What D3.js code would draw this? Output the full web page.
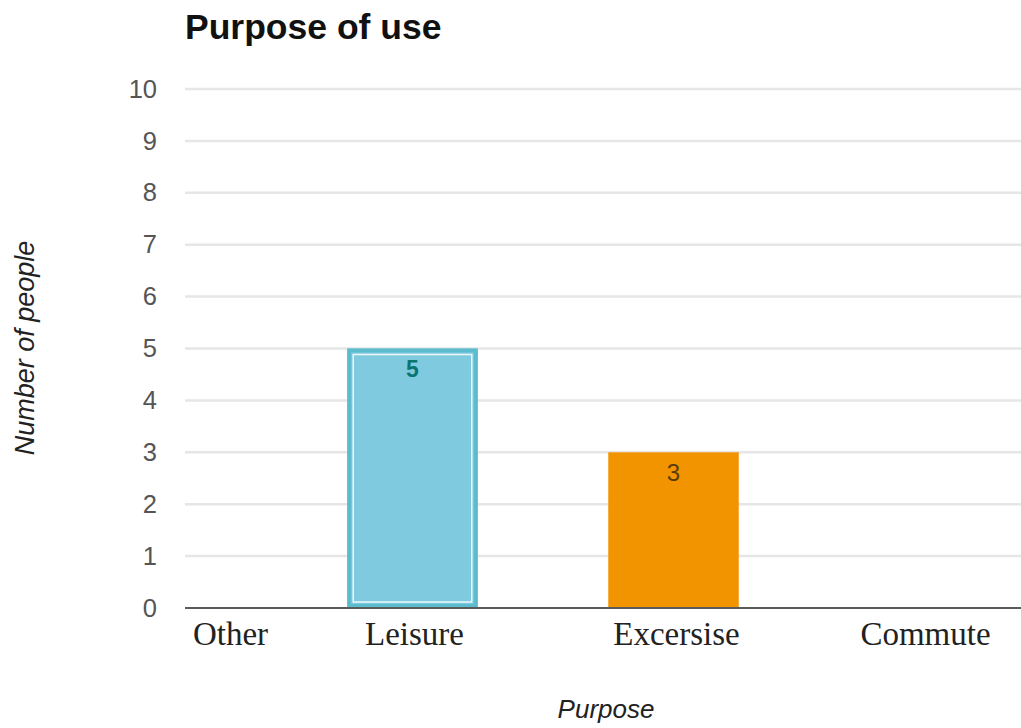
<!DOCTYPE html>
<html>
<head>
<meta charset="utf-8">
<script src="https://cdn.jsdelivr.net/npm/d3@7"></script>
<style>
  html, body { margin: 0; padding: 0; background: #fff; }
  svg { display: block; }
</style>
</head>
<body>
<svg id="chart" width="1021" height="728"></svg>
<script>
// Survey answers: how many people use it for each purpose
const categories = ["Other", "Leisure", "Excersise", "Commute"];
const counts = [0, 5, 3, 0];
const yTicks = [0, 1, 2, 3, 4, 5, 6, 7, 8, 9, 10];
const chartTitle = "Purpose of use";
const xTitle = "Purpose";
const yTitle = "Number of people";

const W = 1021, H = 728;
const plot = { left: 185, right: 1021, top: 89, bottom: 608 };

const svg = d3.select("#chart");

// Bar styling per category
const fills = { Leisure: "#80cae0", Excersise: "#f29400" };
const labelColors = { Leisure: "#0b7670", Excersise: "#5a3b0c" };
// Small horizontal nudges for category text under the axis
const labelNudge = { Other: 79, Leisure: 2, Excersise: 3, Commute: -9 };

const x = d3.scaleBand()
  .domain(categories)
  .range([21, 1065])
  .paddingInner(0.5)
  .paddingOuter(0.25);

const y = d3.scaleLinear()
  .domain([0, 10])
  .range([plot.bottom, plot.top]);

// Gridlines
svg.append("g")
  .selectAll("line")
  .data(yTicks.filter(d => d > 0))
  .join("line")
  .attr("x1", plot.left)
  .attr("x2", plot.right)
  .attr("y1", d => y(d))
  .attr("y2", d => y(d))
  .attr("stroke", "#e6e6e6")
  .attr("stroke-width", 2.5);

// Y axis labels
const yAxis = svg.append("g")
  .attr("transform", `translate(${plot.left - 28},0)`)
  .call(d3.axisLeft(y).tickValues(yTicks).tickSize(0).tickPadding(0));
yAxis.select(".domain").remove();
yAxis.selectAll("text")
  .attr("font-family", "Liberation Sans, Arial, sans-serif")
  .attr("font-size", 25.5)
  .attr("fill", "#555");

// Bars
const data = categories.map((c, i) => ({ c, v: counts[i] }));
const bars = svg.append("g");
data.filter(d => d.v > 0).forEach(d => {
  const bx = x(d.c), bw = x.bandwidth();
  const by = y(d.v), bh = y(0) - y(d.v);
  bars.append("rect")
    .attr("x", bx).attr("y", by)
    .attr("width", bw).attr("height", bh)
    .attr("fill", fills[d.c]);
  if (d.c === "Leisure") {
    // highlighted bar: teal outline with an inner white rule
    bars.append("rect")
      .attr("x", bx + 2).attr("y", by + 2)
      .attr("width", bw - 4).attr("height", bh - 4)
      .attr("fill", "none")
      .attr("stroke", "#5bbccd")
      .attr("stroke-width", 4);
    bars.append("rect")
      .attr("x", bx + 6).attr("y", by + 6)
      .attr("width", bw - 12).attr("height", bh - 12)
      .attr("fill", "none")
      .attr("stroke", "#ffffff")
      .attr("stroke-opacity", 0.85)
      .attr("stroke-width", 1.5);
  }
  bars.append("text")
    .attr("x", bx + bw / 2)
    .attr("y", by + 20)
    .attr("dy", "0.35em")
    .attr("text-anchor", "middle")
    .attr("font-family", "Liberation Sans, Arial, sans-serif")
    .attr("font-size", d.c === "Leisure" ? 23 : 24)
    .attr("font-weight", d.c === "Leisure" ? "bold" : "normal")
    .attr("fill", labelColors[d.c])
    .text(d.v);
});

// Baseline
svg.append("line")
  .attr("x1", plot.left).attr("x2", plot.right)
  .attr("y1", y(0)).attr("y2", y(0))
  .attr("stroke", "#5a5a5a")
  .attr("stroke-width", 2);

// Category labels
const xAxis = svg.append("g")
  .attr("transform", `translate(0,${plot.bottom})`)
  .call(d3.axisBottom(x).tickSize(0).tickPadding(0));
xAxis.select(".domain").remove();
xAxis.selectAll("text")
  .attr("font-family", "Liberation Serif, Times New Roman, serif")
  .attr("font-size", 33)
  .attr("fill", "#222")
  .attr("dy", null)
  .attr("y", 37)
  .attr("dx", d => labelNudge[d]);

// Title
svg.append("text")
  .attr("x", 185).attr("y", 39)
  .attr("font-family", "Liberation Sans, Arial, sans-serif")
  .attr("font-size", 35.5)
  .attr("font-weight", "bold")
  .attr("fill", "#111")
  .text(chartTitle);

// Axis titles
svg.append("text")
  .attr("x", 606).attr("y", 718)
  .attr("text-anchor", "middle")
  .attr("font-family", "Liberation Sans, Arial, sans-serif")
  .attr("font-style", "italic")
  .attr("font-size", 26)
  .attr("fill", "#222")
  .text(xTitle);

svg.append("text")
  .attr("transform", "translate(34,348) rotate(-90)")
  .attr("text-anchor", "middle")
  .attr("font-family", "Liberation Sans, Arial, sans-serif")
  .attr("font-style", "italic")
  .attr("font-size", 27)
  .attr("fill", "#222")
  .text(yTitle);
</script>
</body>
</html>
